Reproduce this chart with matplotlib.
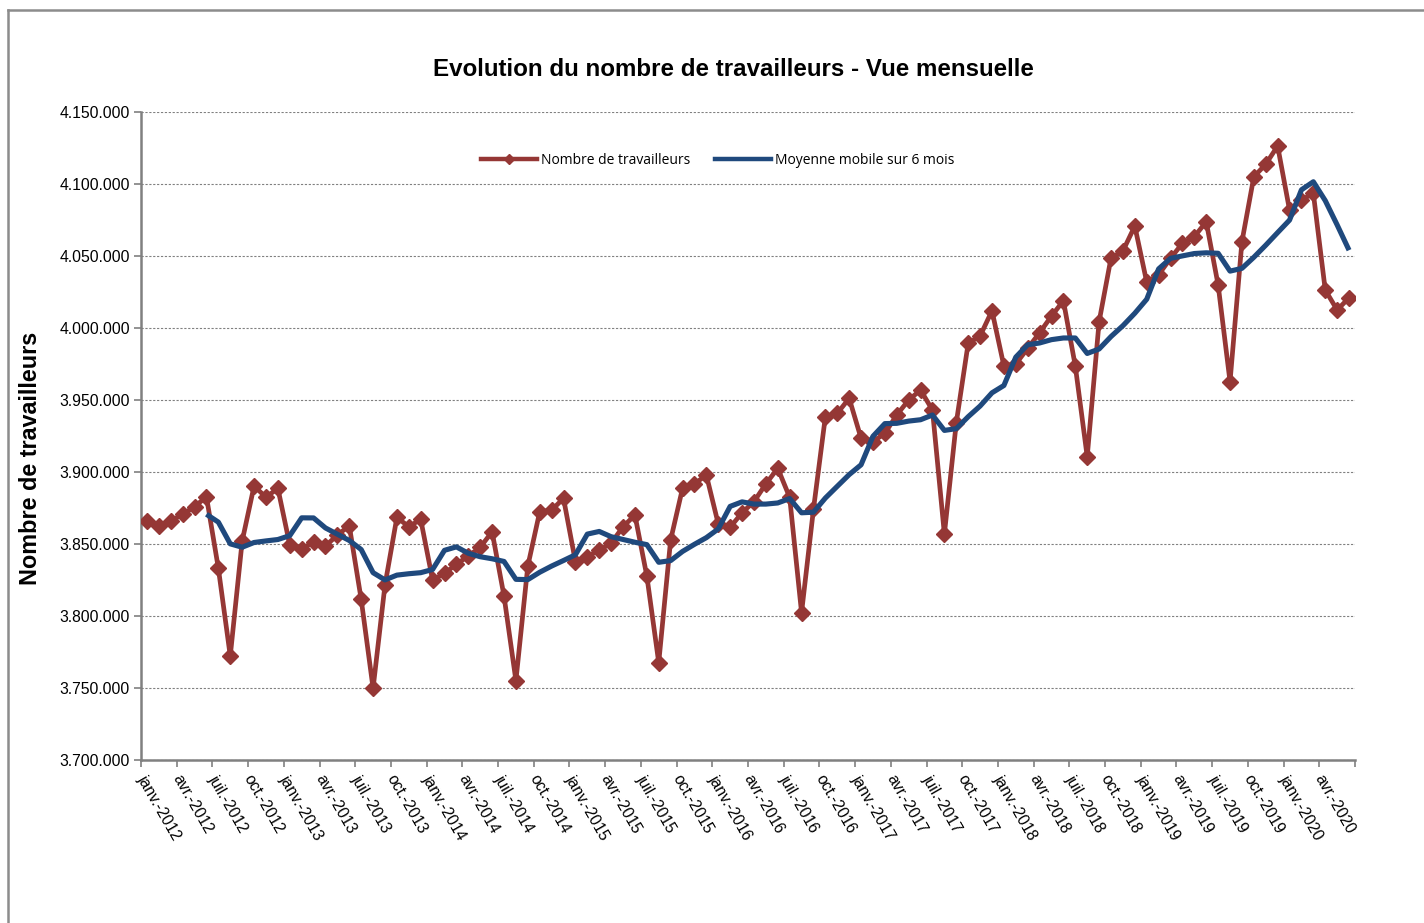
import matplotlib
matplotlib.use("Agg")
import matplotlib.pyplot as plt
import numpy as np
import pandas as pd
from matplotlib.lines import Line2D

# ---- data ----
month_abbr = ["janv.", "févr.", "mars", "avr.", "mai", "juin",
              "juil.", "août", "sept.", "oct.", "nov.", "déc."]
years = list(range(2012, 2021))
categories = [f"{m}-{y}" for y in years for m in month_abbr][:102]

travailleurs = [
    3866000, 3862700, 3866000, 3870600, 3875900, 3882800, 3833100, 3772200, 3852000, 3890300, 3882400, 3888700,
    3849300, 3846300, 3851600, 3848600, 3856200, 3862700, 3811600, 3749800, 3821500, 3868500, 3862000, 3867100,
    3825000, 3829600, 3835900, 3841700, 3847700, 3858500, 3813900, 3755100, 3834700, 3872400, 3873500, 3881700,
    3837700, 3841200, 3845800, 3850500, 3862000, 3870100, 3827800, 3767600, 3852800, 3888700, 3891700, 3897900,
    3864000, 3861600, 3871700, 3879400, 3891700, 3902600, 3882400, 3802300, 3874100, 3938400, 3940700, 3951200,
    3923400, 3921000, 3926900, 3939600, 3950000, 3956900, 3943000, 3856900, 3934200, 3989400, 3994400, 4012000,
    3973600, 3975000, 3985900, 3996700, 4008300, 4018900, 3973600, 3910600, 4004400, 4048600, 4053500, 4070800,
    4031900, 4037000, 4048400, 4058800, 4063400, 4073800, 4029900, 3962700, 4059900, 4105000, 4113700, 4126400,
    4081900, 4088900, 4093500, 4026400, 4012500, 4021000,
]

yticks = [3700000, 3750000, 3800000, 3850000, 3900000, 3950000, 4000000, 4050000, 4100000, 4150000]

title = "Evolution du nombre de travailleurs - Vue mensuelle"
ylabel = "Nombre de travailleurs"
legend_labels = ["Nombre de travailleurs", "Moyenne mobile sur 6 mois"]

# 6-month moving average trendline (as Excel computes it)
moyenne = pd.Series(travailleurs).rolling(6).mean()

# ---- figure ----
W, H = 1424, 923
fig = plt.figure(figsize=(W / 100, H / 100), dpi=100)
plt.rcParams['font.family'] = ['Liberation Sans', 'DejaVu Sans']

ax = fig.add_axes([141 / W, 1 - 760 / H, (1355 - 141) / W, (760 - 112) / H])

x = np.arange(len(travailleurs))
red = "#953735"
blue = "#1F497D"
ax.plot(x, travailleurs, color=red, lw=3.4, marker="D", ms=8.5,
        markeredgecolor=red, markerfacecolor=red, zorder=3)
ax.plot(x, moyenne, color=blue, lw=3.7, zorder=4, solid_capstyle="butt")

ax.set_xlim(-0.5, len(travailleurs) - 0.5)
ax.set_ylim(yticks[0], yticks[-1])
ax.set_yticks(yticks)
ax.set_yticklabels([f"{v:,}".replace(",", ".") for v in yticks], fontsize=11.3)
ax.yaxis.grid(True, linestyle=(0, (2, 1.5)), color="#808080", lw=0.8)
ax.set_axisbelow(True)

# major ticks at category boundaries every 3 months, labels at category centers
ax.set_xticks(np.arange(-0.5, len(travailleurs), 3))
ax.set_xticklabels([])
lab_idx = list(range(0, len(travailleurs), 3))
ax.set_xticks(lab_idx, minor=True)
ax.set_xticklabels([categories[i] for i in lab_idx], minor=True, rotation=-60,
                   ha="left", va="top", rotation_mode="anchor", fontsize=11.3)
ax.tick_params(axis="x", which="minor", length=0, pad=9)
ax.tick_params(axis="x", which="major", length=5, color="#808080", width=1.2, direction="out")
ax.tick_params(axis="y", length=5, color="#808080", width=1.2, direction="out", pad=3)

for s in ["top", "right"]:
    ax.spines[s].set_visible(False)
for s in ["left", "bottom"]:
    ax.spines[s].set_color("#808080")
    ax.spines[s].set_linewidth(1.8)

ax.legend([Line2D([], [], color=red, lw=3.2, marker="D", ms=5),
           Line2D([], [], color=blue, lw=3.2)],
          legend_labels, loc="upper center", bbox_to_anchor=((718 - 141) / (1355 - 141), 0.956),
          ncol=2, frameon=False, prop={"family": "Open Sans", "size": 10},
          handlelength=4, columnspacing=1.8, handletextpad=0.3)

fig.text(733 / W, 1 - 70 / H, title, ha="center", va="center", fontsize=17.4, fontweight="bold")
fig.text(31 / W, 1 - 458 / H, ylabel, ha="center", va="center", rotation=90,
         fontsize=16.8, fontweight="bold")

# outer frame (top and left edges visible)
fig.add_artist(Line2D([8 / W, 8 / W], [0, 1 - 10 / H], color="#8c8c8c", lw=1.8))
fig.add_artist(Line2D([8 / W, 1], [1 - 10 / H, 1 - 10 / H], color="#8c8c8c", lw=1.8))

fig.savefig("out.png", dpi=100)
